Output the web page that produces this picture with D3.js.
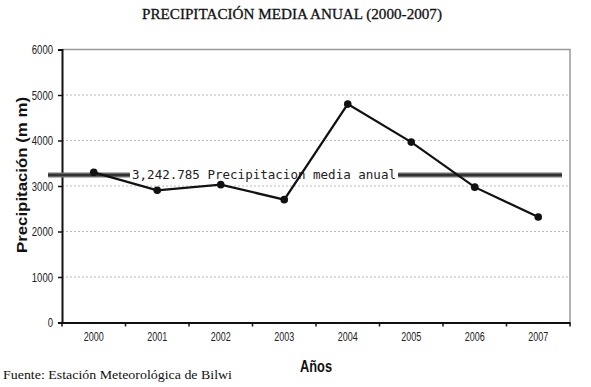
<!DOCTYPE html>
<html><head><meta charset="utf-8">
<script src="https://cdn.jsdelivr.net/npm/d3@7"></script>
<style>body{margin:0;background:#fff}svg{display:block}</style>
</head><body>
<script>
const years = ["2000","2001","2002","2003","2004","2005","2006","2007"];
const precip = [3300, 2905, 3030, 2700, 4800, 3965, 2975, 2320];
const meanValue = 3242.785;
const meanLabel = "3,242.785 Precipitacion media anual";
const yTicks = [0,1000,2000,3000,4000,5000,6000];
const title = "PRECIPITACIÓN MEDIA ANUAL (2000-2007)";
const yTitle = "Precipitación (m m)";
const xTitle = "Años";
const source = "Fuente: Estación Meteorológica de Bilwi";

const W = 591, H = 387;
const m = {left:62, right:21, top:49.5, bottom:64.5};
const svg = d3.select("body").append("svg").attr("width",W).attr("height",H);
const x = d3.scaleBand().domain(years).range([m.left, W-m.right]);
const y = d3.scaleLinear().domain([0,6000]).range([H-m.bottom, m.top]);
const narrow = "'Liberation Sans Narrow','Arial Narrow',sans-serif";

// gridlines
svg.append("g").selectAll("line").data(yTicks.filter(d=>d>0&&d<6000)).join("line")
  .attr("x1",m.left).attr("x2",W-m.right).attr("y1",d=>y(d)).attr("y2",d=>y(d))
  .attr("stroke","#bbb").attr("stroke-width",1).attr("stroke-dasharray","2,2");

// top/right border
svg.append("path").attr("d",`M${m.left},${y(6000)}H${W-m.right}V${y(0)}`)
  .attr("fill","none").attr("stroke","#999").attr("stroke-width",1.5);

// axes
const yAxis = svg.append("g").attr("transform",`translate(${m.left},0)`)
  .call(d3.axisLeft(y).tickValues(yTicks).tickSize(4).tickPadding(5).tickFormat(d3.format("d")));
yAxis.select(".domain").attr("stroke","#111").attr("stroke-width",2);
yAxis.selectAll(".tick line").attr("stroke","#111").attr("stroke-width",1.5);
yAxis.selectAll("text").attr("font-family",narrow).attr("font-size",12.5).attr("fill","#222")
  .attr("textLength",function(){return this.textContent.length*5.3;}).attr("lengthAdjust","spacingAndGlyphs");

const xAxis = svg.append("g").attr("transform",`translate(0,${y(0)})`)
  .call(d3.axisBottom(x).tickSize(0).tickPadding(10));
xAxis.select(".domain").attr("stroke","#111").attr("stroke-width",2);
xAxis.selectAll("text").attr("font-family",narrow).attr("font-size",12.5).attr("fill","#222")
  .attr("textLength",20).attr("lengthAdjust","spacingAndGlyphs");
// category boundary ticks
const bounds = years.map(d=>x(d)).concat([x(years[years.length-1])+x.bandwidth()]);
svg.append("g").selectAll("line").data(bounds).join("line")
  .attr("x1",d=>d).attr("x2",d=>d)
  .attr("y1",y(0)).attr("y2",y(0)+4).attr("stroke","#111").attr("stroke-width",1.5);

// mean line
const my = y(meanValue);
svg.append("line").attr("x1",48).attr("x2",562).attr("y1",my).attr("y2",my)
  .attr("stroke","#777").attr("stroke-width",5);
svg.append("line").attr("x1",48).attr("x2",562).attr("y1",my).attr("y2",my)
  .attr("stroke","#333").attr("stroke-width",2.5);
svg.append("rect").attr("x",130).attr("y",my-6).attr("width",268).attr("height",12).attr("fill","#fff");
svg.append("text").attr("x",132).attr("y",my+4)
  .attr("font-family","'DejaVu Sans Mono','Liberation Mono',monospace").attr("font-size",12)
  .attr("textLength",264).attr("lengthAdjust","spacingAndGlyphs")
  .attr("fill","#222").text(meanLabel);

// data line
const line = d3.line().x((d,i)=>x(years[i])+x.bandwidth()/2).y(d=>y(d));
svg.append("path").datum(precip).attr("d",line).attr("fill","none")
  .attr("stroke","#111").attr("stroke-width",2.2);
svg.append("g").selectAll("circle").data(precip).join("circle")
  .attr("cx",(d,i)=>x(years[i])+x.bandwidth()/2).attr("cy",d=>y(d)).attr("r",3.8).attr("fill","#111");

// titles
svg.append("text").attr("x",142).attr("y",19)
  .attr("font-family","'Liberation Serif','Times New Roman',serif").attr("font-size",15.5)
  .attr("textLength",300).attr("lengthAdjust","spacingAndGlyphs")
  .attr("stroke","#111").attr("stroke-width",0.3)
  .attr("fill","#111").text(title);
svg.append("text").attr("transform",`translate(27,175) rotate(-90)`).attr("text-anchor","middle")
  .attr("font-family","'Liberation Sans',Arial,sans-serif").attr("font-size",15).attr("font-weight","bold")
  .attr("textLength",156).attr("lengthAdjust","spacingAndGlyphs")
  .attr("fill","#111").text(yTitle);
svg.append("text").attr("x",300).attr("y",372)
  .attr("font-family",narrow).attr("font-size",17).attr("font-weight","bold")
  .attr("textLength",32).attr("lengthAdjust","spacingAndGlyphs")
  .attr("fill","#111").text(xTitle);
svg.append("text").attr("x",3).attr("y",379)
  .attr("font-family","'Liberation Serif','Times New Roman',serif").attr("font-size",13)
  .attr("textLength",229).attr("lengthAdjust","spacingAndGlyphs")
  .attr("fill","#111").text(source);
</script>
</body></html>
